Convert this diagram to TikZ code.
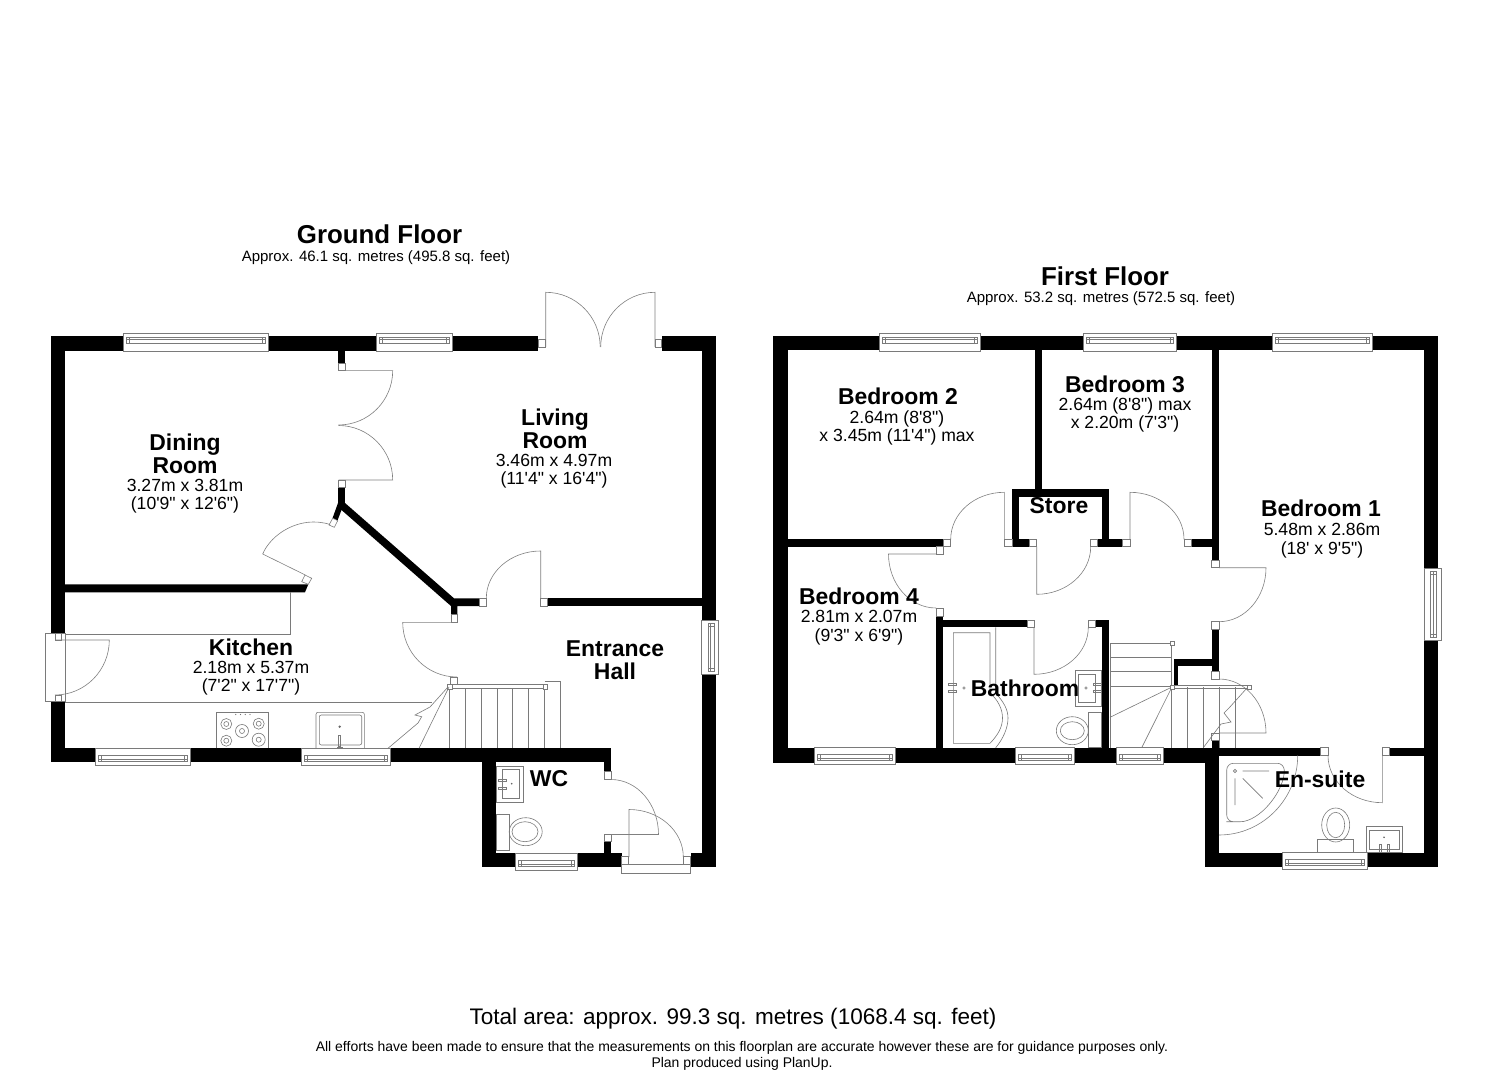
\documentclass[tikz,border=0pt]{standalone}
\usepackage{fontspec}
\setmainfont{Liberation Sans}
\font\plainroman="Liberation Sans" at 13.2pt
\tikzset{
  x=0.75pt,y=-0.75pt,
  wallfill/.style={fill=black,draw=none},
  fix/.style={draw=black!52,line width=0.45pt},
  swing/.style={draw=black!50,line width=0.45pt},
  roomname/.style={inner sep=0pt,align=center,font=\fontsize{17.2}{17.4}\selectfont\bfseries},
  roomdim/.style={inner sep=0pt,anchor=base,font=\plainroman},
  title/.style={inner sep=0pt,font=\fontsize{19.4}{22}\selectfont\bfseries},
  subtitle/.style={inner sep=0pt,font=\fontsize{11.25}{13}\selectfont},
  total/.style={inner sep=0pt,font=\fontsize{16.9}{19}\selectfont},
  note/.style={inner sep=0pt,align=center,font=\fontsize{10.48}{12}\selectfont}
}
\newcommand\wl[4]{\fill[wallfill] (#1,#2) rectangle (#3,#4);}
\newcommand\jb[4]{\draw[fix,fill=white] (#1,#2) rectangle (#3,#4);}
\newcommand\dsw[6]{\draw[swing] (#1,#2) -- (#3,#4) .. controls ({#3+0.5523*(#5-#1)},{#4+0.5523*(#6-#2)}) and ({#5+0.5523*(#3-#1)},{#6+0.5523*(#4-#2)}) .. (#5,#6);}
\newcommand\wT[3]{\draw[fix,fill=white] (#1,{#3-3}) rectangle (#2,{#3+15});
  \draw[fix] ({#1+3},{#3+1.5}) rectangle ({#2-3},{#3+7.5});
  \draw[fix] ({#1+3},{#3+3.5}) -- ({#2-3},{#3+3.5});
  \draw[fix] ({#1+6},{#3+1.5}) -- ({#1+6},{#3+7.5}) ({#2-6},{#3+1.5}) -- ({#2-6},{#3+7.5});}
\newcommand\wB[3]{\draw[fix,fill=white] (#1,#3) rectangle (#2,{#3+17});
  \draw[fix] ({#1+3},{#3+7}) rectangle ({#2-3},{#3+13});
  \draw[fix] ({#1+3},{#3+11}) -- ({#2-3},{#3+11});
  \draw[fix] ({#1+6},{#3+7}) -- ({#1+6},{#3+13}) ({#2-6},{#3+7}) -- ({#2-6},{#3+13});}
\newcommand\wR[3]{\draw[fix,fill=white] (#3,#1) rectangle ({#3+17},#2);
  \draw[fix] ({#3+6.5},{#1+3}) rectangle ({#3+12.5},{#2-3});
  \draw[fix] ({#3+9},{#1+3}) -- ({#3+9},{#2-3});
  \draw[fix] ({#3+6.5},{#1+6}) -- ({#3+12.5},{#1+6}) ({#3+6.5},{#2-6}) -- ({#3+12.5},{#2-6});}
\newcommand\elp[4]{\draw[fix] (#1,#2) ellipse [x radius=#3*0.75pt,y radius=#4*0.75pt];}
\begin{document}
\begin{tikzpicture}
\useasboundingbox (0,0) rectangle (1485,1080);
\fill[white] (0,0) rectangle (1485,1080);

% ===== GROUND FLOOR walls =====
\wl{51}{336}{538.3}{350.7}
\wl{661.7}{336}{716}{350.7}
\wl{51}{336}{65}{633.3}
\wl{51}{701.7}{65}{762.3}
\wl{701.7}{336}{716}{867.3}
\wl{51}{748.3}{611.3}{762.3}
\wl{604}{748.3}{611.3}{771.7}
\wl{481.7}{748.3}{496}{867.3}
\wl{481.7}{853.3}{621.7}{867.3}
\wl{604}{841.7}{611.3}{853.3}
\wl{690.7}{853.3}{716}{867.3}
\wl{338}{351}{345}{363.3}
\wl{338}{487.5}{345}{505}
\fill[wallfill] (345,503) -- (454,598.3) -- (479,598.3) -- (479,606) -- (457.3,606) -- (457.3,614.5) -- (451,614.5) -- (451,606) -- (447.5,603) -- (341.5,510) -- (337.5,520.5) -- (332.5,518.3) -- (338,503) -- cycle;
\wl{547.7}{598.3}{701.7}{606}
\fill[wallfill] (65,584.3) -- (308.3,584.3) -- (305,592.3) -- (65,592.3) -- cycle;

% windows
\wT{123.3}{268.7}{336}
\wT{376.7}{452.7}{336}
\wB{95.7}{190}{748.3}
\wB{301}{390.7}{748.3}
\wB{515.7}{577.3}{853.3}
\wR{620}{674.3}{701.7}

% jambs and doors
\jb{538.3}{339.5}{545.7}{347.3}
\jb{655}{339.5}{661.7}{347.3}
\dsw{545.7}{347}{545.7}{292.3}{600.2}{347}
\dsw{655}{347}{655}{292.3}{600.7}{347}
\jb{338}{363.3}{345}{370.7}
\jb{338}{480}{345}{487.5}
\dsw{338.5}{370.7}{392.7}{370.7}{338.5}{425}
\dsw{338.5}{480}{392.7}{480}{338.5}{425.5}
\draw[fix,fill=white] (332.7,518.3) -- (337.7,520.7) -- (334.3,527.3) -- (329,525) -- cycle;
\draw[fix,fill=white] (305,575) -- (311.7,578.3) -- (308.3,584.3) -- (301.7,581.7) -- cycle;
\draw[swing] (305.3,575) -- (262.7,554) .. controls (271,534) and (300,515) .. (330,524.5);
\jb{479}{598.3}{486.3}{606}
\jb{540.7}{598.3}{547.7}{606}
\dsw{540.7}{598.3}{540.7}{551}{486.3}{598.3}
\jb{451}{614.5}{457.3}{622.3}
\dsw{457}{622.3}{402.7}{622.3}{457}{677}
\jb{450.3}{677}{457.3}{684}
\jb{604}{771.7}{611.3}{779}
\jb{604}{834}{611.3}{841.7}
\dsw{611}{834.5}{658.5}{834.5}{611}{779.5}
\jb{621.7}{856.7}{628.7}{864}
\jb{683.3}{856.7}{690.7}{864}
\dsw{629}{857}{629}{809.5}{683.3}{857}
\jb{621.7}{864}{690.7}{873.3}

% kitchen door & units
\jb{45}{633.3}{65}{701.7}
\jb{55}{633.3}{61.7}{640}
\jb{55}{695}{61.7}{701.7}
\dsw{55}{640}{109.3}{640}{55}{695}
\draw[fix] (65,634) -- (290.7,634) -- (290.7,592.3);
\draw[fix,line width=0.9pt] (65,702.7) -- (432,702.7);
% hob
\draw[fix] (216,748.3) -- (216,712.3) -- (268.7,712.3) -- (268.7,748.3);
\elp{226.3}{724}{5.5}{5.5}\elp{226.3}{724}{2.5}{2.5}
\elp{258.7}{723.7}{5.5}{5.5}\elp{258.7}{723.7}{2.5}{2.5}
\elp{242}{731}{6.5}{6.5}\elp{242}{731}{2.5}{2.5}
\elp{226.3}{740.7}{5.5}{5.5}\elp{226.3}{740.7}{2.5}{2.5}
\elp{258.7}{739.7}{6.5}{6.5}\elp{258.7}{739.7}{2.5}{2.5}
\foreach \dx in {235.7,240.5,245.3,250} {\fill[black!55] (\dx,714.5) circle [radius=0.5pt];}
% sink
\draw[fix,rounded corners=1.5pt] (316,748.3) -- (316,712.3) -- (364.3,712.3) -- (364.3,748.3);
\draw[fix,rounded corners=1.5pt] (319.3,715) rectangle (361.7,745);
\fill[black!60] (339.7,726.7) circle [radius=1pt];
\draw[fix] (338.7,735) rectangle (340.7,746);
\draw[fix] (337,747) -- (342.5,747);
% stairs
\foreach \sx in {449.3,465.3,481,497,512.7,528.7,544.7} {\draw[fix] (\sx,688) -- (\sx,748.3);}
\draw[fix] (544.7,681.7) -- (560,681.7) -- (560,748.3);
\draw[fix] (449,684.7) -- (544.7,684.7) (449,688.3) -- (544.7,688.3);
\jb{447}{684}{452}{689}
\jb{543}{684.7}{547.7}{689.5}
\draw[fix] (449,687) -- (419,748.3);
\draw[fix] (448,687) -- (430,707) -- (415,715) -- (421.7,716.7) -- (418,723) -- (388,748.3);
% WC fittings
\draw[fix] (496,766) rectangle (523.3,802);
\draw[fix] (502.7,769.3) rectangle (519.3,798.3);
\draw[fix] (498.5,779) rectangle (506,781) (498.5,787) rectangle (506,789);
\fill[black!60] (511.7,783.7) circle [radius=0.7pt];
\draw[fix] (496,814) rectangle (509.3,850);
\elp{525.7}{831.7}{16.5}{14}
\elp{525}{831.7}{13}{10}

% ===== FIRST FLOOR walls =====
\wl{773.3}{336}{1438.3}{350.3}
\wl{773.3}{336}{787.5}{762.7}
\wl{1424}{336}{1438.3}{867.3}
\wl{773.3}{747.7}{1219}{762.7}
\wl{1205}{747.7}{1219}{867.3}
\wl{1205}{852.7}{1438.3}{867.3}
\wl{1219}{747.7}{1320.7}{755.5}
\wl{1389.7}{747.7}{1424}{755.5}
\wl{1035.3}{350}{1042}{490}
\wl{1211.7}{350}{1219}{560}
\wl{1211.7}{629.3}{1219}{671.7}
\wl{1211.7}{740}{1219}{748}
\wl{1174}{659}{1211.7}{666}
\wl{1174}{659}{1177.7}{686}
\wl{1012.3}{489.3}{1109}{496.7}
\wl{1012.3}{489.3}{1019.3}{546.7}
\wl{1101.7}{489.3}{1109}{546.7}
\wl{1012.3}{539.3}{1029.3}{546.7}
\wl{1097.5}{539.3}{1122.7}{546.7}
\wl{1191.3}{539.3}{1211.7}{546.7}
\wl{787}{539.3}{943.3}{546.7}
\wl{936}{616}{943.3}{748}
\wl{936}{620}{1027.3}{627.3}
\wl{1095.3}{620}{1108.7}{627.3}
\wl{1101.7}{620}{1108.7}{748}

% windows
\wT{879}{980}{336}
\wT{1083}{1176}{336}
\wT{1272}{1372}{336}
\wB{814}{895.7}{747.7}
\wB{1015.7}{1074}{747.7}
\wB{1116}{1163.3}{747.7}
\wB{1282.3}{1367.7}{852.7}
\wR{568.3}{640.7}{1424}

% jambs and doors
\jb{943.3}{539.3}{950.7}{546.7}
\dsw{1004.3}{539.3}{1004.3}{492.3}{950.7}{539.3}
\jb{1004.3}{539.3}{1012.3}{546.7}
\jb{1029.3}{539.3}{1036.7}{546.7}
\jb{1090.7}{539.3}{1097.5}{546.7}
\dsw{1036.7}{546.7}{1036.7}{594.3}{1090.7}{546.7}
\jb{1122.7}{539.3}{1130}{546.7}
\dsw{1130}{539.3}{1130}{492.3}{1184}{539.3}
\jb{1184}{539.3}{1191.3}{546.7}
\jb{936}{546.7}{943.3}{554}
\dsw{936}{554}{888.5}{554}{936}{608}
\jb{936}{608}{943.3}{616}
\jb{1027.3}{620}{1034}{627.3}
\dsw{1034}{627.3}{1034}{674.3}{1088.3}{627.3}
\jb{1088.3}{620}{1095.3}{627.3}
\jb{1211.7}{560}{1219}{567.7}
\dsw{1219}{567.7}{1266}{567.7}{1219}{621.7}
\jb{1211.7}{621.7}{1219}{629.3}
\jb{1211.7}{671.7}{1219}{679}
\dsw{1219}{733}{1266}{733}{1219}{679}
\jb{1211.7}{733}{1219}{740}
\jb{1320.7}{747.7}{1328}{755.5}
\jb{1382.3}{747.7}{1389.7}{755.5}
\dsw{1382.3}{755.5}{1382.3}{802.7}{1328}{755.5}

% first-floor stairs
\draw[fix] (1110,643.3) -- (1171.7,643.3) (1110,657.3) -- (1171.7,657.3) (1110,671.7) -- (1171.7,671.7) (1110,686) -- (1171.7,686);
\draw[fix] (1110,643.3) -- (1110,747.7);
\draw[fix] (1171.7,643.3) -- (1171.7,686);
\draw[fix] (1110,717.3) -- (1172,687) -- (1141.7,747.7);
\foreach \sx in {1171.7,1187.7,1203.3,1219,1235} {\draw[fix] (\sx,687) -- (\sx,747.7);}
\draw[fix] (1172,684.8) -- (1251,684.8) (1172,688) -- (1251,688);
\jb{1170}{641.3}{1174}{645.7}
\jb{1170}{685}{1174.5}{689}
\jb{1247}{685}{1251}{689}
\draw[fix] (1247,688) -- (1229,708) -- (1224,713) -- (1231,722) -- (1221,724) -- (1203.3,747.7);

% bathroom fittings
\draw[fix] (995.7,627.3) -- (995.7,693.3) .. controls (1004,702) and (1008,710) .. (1008,718) .. controls (1008,728) and (1003,739) .. (995.7,747.7);
\draw[fix] (990,693) -- (990,632.7) -- (953.3,632.7) -- (953.3,743.3) -- (990,743.3) .. controls (998,735) and (1002.5,727) .. (1002.5,718) .. controls (1002.5,709) and (998,700) .. (990,693);
\draw[fix] (948.3,683) rectangle (956.7,685) (948.3,690.7) rectangle (956.7,692.7);
\elp{964}{688}{1.3}{1.3}
\draw[fix] (1075,670.7) rectangle (1101.7,706.7);
\draw[fix] (1078.3,674) rectangle (1095.7,702.7);
\draw[fix] (1093.3,683) rectangle (1101.7,685) (1093.3,690.7) rectangle (1101.7,692.7);
\elp{1086}{688}{1.3}{1.3}
\draw[fix] (1088.3,712.3) rectangle (1101.7,747.7);
\elp{1072.3}{730.7}{16}{14}
\elp{1072.3}{730.7}{12}{9}
% en-suite fittings
\draw[swing] (1297.7,755.5) .. controls (1297.7,799) and (1262.5,835) .. (1219,835);
\draw[fix,rounded corners=5pt] (1226.7,821.7) -- (1226.7,763.3) -- (1284,763.3) .. controls (1285,790) and (1260,822) .. (1233,821.7) -- cycle;
\elp{1235}{771}{1.6}{1.6}
\draw[fix] (1242.7,771) -- (1269,771) (1235,778.3) -- (1235,805) (1242.7,778.3) -- (1262.7,798.3);
\draw[fix] (1317.7,839.3) rectangle (1353.3,852.7);
\elp{1335.7}{825}{14}{17}
\elp{1335.7}{825}{9}{12.7}
\draw[fix] (1366.7,826.7) rectangle (1402.3,852.7);
\draw[fix] (1369.3,830) rectangle (1399.3,849.3);
\fill[black!60] (1384,837.3) circle [radius=0.7pt];
\draw[fix] (1379.5,844) rectangle (1381.5,852) (1387.5,844) rectangle (1389.5,852);

% ===== TEXT =====
\node[title] (gfT) at (379.5,234) {Ground Floor};
\node[subtitle] (gfS) at (376,258) {Approx. 46.1 sq. metres (495.8 sq. feet)};
\node[title] (ffT) at (1105,276) {First Floor};
\node[subtitle] (ffS) at (1101,299) {Approx. 53.2 sq. metres (572.5 sq. feet)};
\node[roomname] (dn) at (185,454) {Dining\\Room};
\node[roomdim] (dd1) at (185,491.7) {3.27m x 3.81m};
\node[roomdim] (dd2) at (185,509.3) {(10'9" x 12'6")};
\node[roomname] (ln) at (555,429) {Living\\Room};
\node[roomdim] (ld1) at (554,466.7) {3.46m x 4.97m};
\node[roomdim] (ld2) at (554,484.3) {(11'4" x 16'4")};
\node[roomname] (kn) at (251,647) {Kitchen};
\node[roomdim] (kd1) at (251,673.3) {2.18m x 5.37m};
\node[roomdim] (kd2) at (251,691.7) {(7'2" x 17'7")};
\node[roomname] (hn) at (615,660) {Entrance\\Hall};
\node[roomname] (wc) at (549,779) {WC};
\node[roomname] (b2n) at (898,396) {Bedroom 2};
\node[roomdim] (b2d1) at (897,423.3) {2.64m (8'8")};
\node[roomdim] (b2d2) at (897,441.7) {x 3.45m (11'4") max};
\node[roomname] (b3n) at (1125,384) {Bedroom 3};
\node[roomdim] (b3d1) at (1125,410.7) {2.64m (8'8") max};
\node[roomdim] (b3d2) at (1125,428.3) {x 2.20m (7'3")};
\node[roomname] (b1n) at (1321,508) {Bedroom 1};
\node[roomdim] (b1d1) at (1322,535) {5.48m x 2.86m};
\node[roomdim] (b1d2) at (1322,554) {(18' x 9'5")};
\node[roomname] (st) at (1059,506) {Store};
\node[roomname] (b4n) at (859,596) {Bedroom 4};
\node[roomdim] (b4d1) at (859,622.7) {2.81m x 2.07m};
\node[roomdim] (b4d2) at (859,641.7) {(9'3" x 6'9")};
\node[roomname] (ba) at (1025,688) {Bathroom};
\node[roomname] (es) at (1320,779) {En-suite};
\node[total] (tot) at (733,1019) {Total area: approx. 99.3 sq. metres (1068.4 sq. feet)};
\node[note] (nt) at (742,1056) {All efforts have been made to ensure that the measurements on this floorplan are accurate however these are for guidance purposes only.\\Plan produced using PlanUp.};
\end{tikzpicture}
\end{document}
